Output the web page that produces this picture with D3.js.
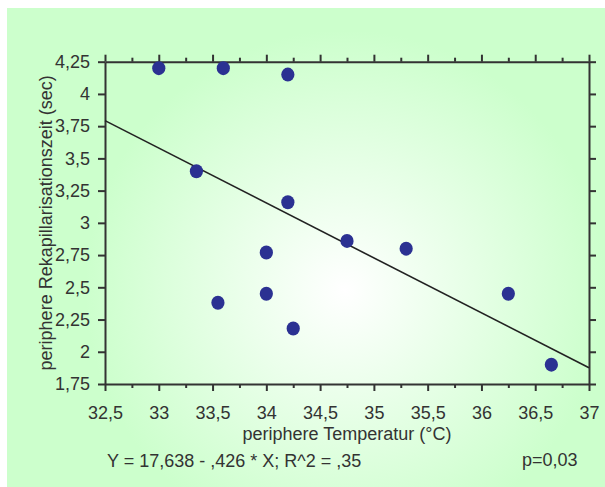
<!DOCTYPE html>
<html><head><meta charset="utf-8">
<script src="https://cdn.jsdelivr.net/npm/d3@7"></script>
<style>
body{margin:0;background:#fff}
svg text{font-family:"Liberation Sans",Arial,Helvetica,sans-serif;fill:#333}
</style>
</head><body><svg id="c" width="605" height="487"></svg>
<script>
// ---- data ----
const temperature = [33.0, 33.6, 34.2, 33.35, 34.2, 34.0, 34.75, 35.3, 33.55, 34.0, 34.25, 36.25, 36.65];
const refillTime  = [4.2, 4.2, 4.15, 3.4, 3.16, 2.77, 2.86, 2.8, 2.38, 2.45, 2.18, 2.45, 1.9];
const xMajorTicks = [32.5, 33, 33.5, 34, 34.5, 35, 35.5, 36, 36.5, 37];
const xMinorTicks = [32.75, 33.25, 33.75, 34.25, 34.75, 35.25, 35.75, 36.25, 36.75];
const yTicks = [1.75, 2, 2.25, 2.5, 2.75, 3, 3.25, 3.5, 3.75, 4, 4.25];
const regIntercept = 17.638;
const regSlope = -0.426;
const xTitle = "periphere Temperatur (°C)";
const yTitle = "periphere Rekapillarisationszeit (sec)";
const footerLeft = "Y = 17,638 - ,426 * X; R^2 = ,35";
const footerRight = "p=0,03";

// ---- layout ----
const svg = d3.select("#c");
const L = 105, R = 589, T = 61.7, B = 384;
const x = d3.scaleLinear().domain([32.5, 37]).range([L, R]);
const y = d3.scaleLinear().domain([1.75, 4.25]).range([B, T]);
const fmt = v => String(+v.toFixed(2)).replace(".", ",");

const defs = svg.append("defs");
const g = defs.append("radialGradient").attr("id", "bg")
  .attr("gradientUnits", "userSpaceOnUse")
  .attr("cx", 345).attr("cy", 290).attr("r", 260);
g.append("stop").attr("offset", "0").attr("stop-color", "#ffffff");
g.append("stop").attr("offset", "1").attr("stop-color", "#ccffcc");

svg.append("rect").attr("x", 7).attr("y", 8).attr("width", 598).attr("height", 479)
  .attr("fill", "url(#bg)");

const axisColor = "#333";
function styleAxis(sel){
  sel.selectAll("path.domain").attr("stroke", axisColor).attr("stroke-width", 2);
  sel.selectAll(".tick line").attr("stroke", axisColor).attr("stroke-width", 2);
  sel.selectAll("text").attr("font-size", 18).attr("fill", "#333")
    .attr("font-family", '"Liberation Sans",Arial,sans-serif');
}

// bottom axis
const bx = svg.append("g").attr("transform", `translate(0,${B})`)
  .call(d3.axisBottom(x).tickValues(xMajorTicks).tickSize(7).tickSizeOuter(0).tickPadding(15).tickFormat(fmt));
styleAxis(bx);
svg.append("g").attr("transform", `translate(0,${B})`)
  .call(d3.axisBottom(x).tickValues(xMinorTicks).tickSize(4).tickSizeOuter(0).tickFormat(""))
  .call(s => { s.select("path.domain").remove(); styleAxis(s); });

// top axis
const tx = svg.append("g").attr("transform", `translate(0,${T})`)
  .call(d3.axisTop(x).tickValues(xMajorTicks).tickSize(7).tickSizeOuter(0).tickFormat(""));
styleAxis(tx);
svg.append("g").attr("transform", `translate(0,${T})`)
  .call(d3.axisTop(x).tickValues(xMinorTicks).tickSize(4).tickSizeOuter(0).tickFormat(""))
  .call(s => { s.select("path.domain").remove(); styleAxis(s); });

// left axis
const ly = svg.append("g").attr("transform", `translate(${L},0)`)
  .call(d3.axisLeft(y).tickValues(yTicks).tickSize(7).tickSizeOuter(0).tickPadding(8).tickFormat(fmt));
styleAxis(ly);

// right axis
const ry = svg.append("g").attr("transform", `translate(${R},0)`)
  .call(d3.axisRight(y).tickValues(yTicks).tickSize(7).tickSizeOuter(0).tickFormat(""));
styleAxis(ry);

// regression line
const xd = x.domain();
svg.append("line")
  .attr("x1", x(xd[0])).attr("y1", y(regIntercept + regSlope * xd[0]))
  .attr("x2", x(xd[1])).attr("y2", y(regIntercept + regSlope * xd[1]))
  .attr("stroke", "#222").attr("stroke-width", 1.6);

// points
svg.append("g").selectAll("ellipse").data(temperature.map((t, i) => [t, refillTime[i]]))
  .join("ellipse")
  .attr("cx", d => x(d[0])).attr("cy", d => y(d[1]))
  .attr("rx", 6.6).attr("ry", 7).attr("fill", "#2b3192");

// titles
svg.append("text").attr("x", (L + R) / 2).attr("y", 440).attr("text-anchor", "middle")
  .attr("font-size", 18).text(xTitle);
svg.append("text").attr("transform", `translate(52,${(T + B) / 2}) rotate(-90)`)
  .attr("text-anchor", "middle").attr("font-size", 18).text(yTitle);
svg.append("text").attr("x", 107).attr("y", 467).attr("font-size", 18).text(footerLeft);
svg.append("text").attr("x", 522).attr("y", 466).attr("font-size", 18).text(footerRight);
</script>
</body></html>
